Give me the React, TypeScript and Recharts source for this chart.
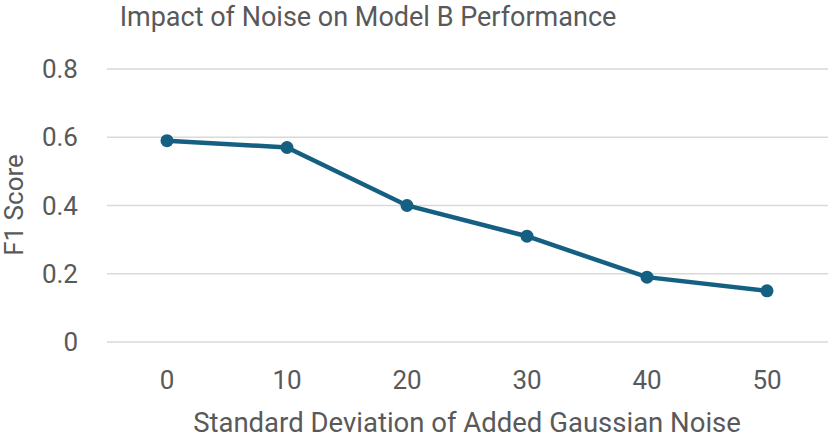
import React from "react";
import {
  CartesianGrid,
  Line,
  LineChart,
  XAxis,
  YAxis,
} from "recharts";

// Noise level (std dev) and F1 score.
const noiseLevels = [0, 10, 20, 30, 40, 50];
const f1Scores = [0.59, 0.57, 0.4, 0.31, 0.19, 0.15];
const yTicks = [0, 0.2, 0.4, 0.6, 0.8];

const data = noiseLevels.map((n, i) => ({ noise: String(n), f1: f1Scores[i] }));

const TEXT = "#595959";
const LINE = "#156082";
const FONT = "Roboto, 'Noto Sans', sans-serif";

export default function App() {
  return (
    <div
      style={{
        position: "absolute",
        left: 0,
        top: 0,
        width: 831,
        height: 438,
        background: "#fff",
        fontFamily: FONT,
        overflow: "hidden",
      }}
    >
      <LineChart
        width={831}
        height={438}
        data={data}
        margin={{ top: 69, right: 3, left: 0, bottom: 0 }}
      >
        <CartesianGrid vertical={false} stroke="#d9d9d9" strokeWidth={1.5} />
        <XAxis
          dataKey="noise"
          height={96}
          axisLine={false}
          tickLine={false}
          tickSize={0}
          tickMargin={29}
          padding={{ left: 60, right: 61 }}
          tick={{ fontSize: 26, fill: TEXT, fontFamily: FONT }}
        />
        <YAxis
          width={107}
          domain={[0, 0.8]}
          ticks={yTicks}
          axisLine={false}
          tickLine={false}
          tickSize={0}
          tickMargin={29}
          tickFormatter={(v) => (v === 0 ? "0" : Number(v).toFixed(1))}
          tick={{ fontSize: 26, fill: TEXT, fontFamily: FONT }}
        />
        <Line
          type="linear"
          dataKey="f1"
          stroke={LINE}
          strokeWidth={4.5}
          dot={{ r: 6.5, fill: LINE, stroke: LINE, strokeWidth: 0 }}
          isAnimationActive={false}
        />
      </LineChart>

      <div
        style={{
          position: "absolute",
          left: 368,
          top: 2,
          transform: "translateX(-50%)",
          whiteSpace: "nowrap",
          fontSize: 27,
          lineHeight: "30px",
          color: TEXT,
        }}
      >
        Impact of Noise on Model B Performance
      </div>
      <div
        style={{
          position: "absolute",
          left: 467,
          top: 408,
          transform: "translateX(-50%)",
          whiteSpace: "nowrap",
          fontSize: 27.5,
          lineHeight: "29px",
          color: TEXT,
        }}
      >
        Standard Deviation of Added Gaussian Noise
      </div>
      <div
        style={{
          position: "absolute",
          left: 14,
          top: 205,
          transform: "translate(-50%, -50%) rotate(-90deg)",
          whiteSpace: "nowrap",
          fontSize: 26,
          color: TEXT,
        }}
      >
        F1 Score
      </div>
    </div>
  );
}
